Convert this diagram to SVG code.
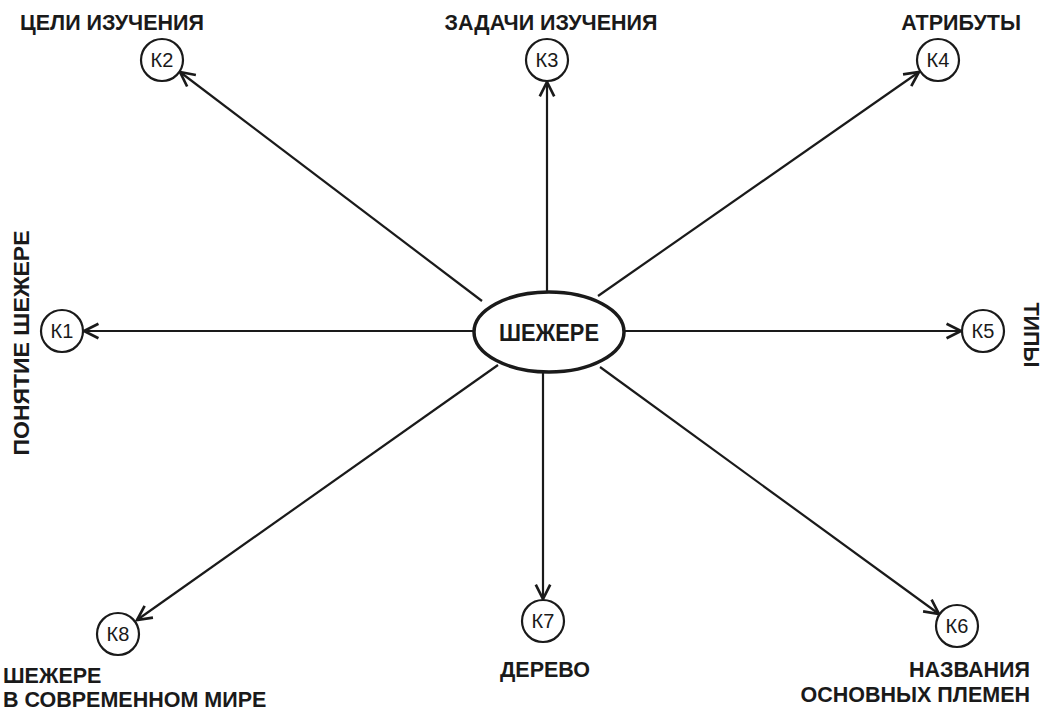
<svg xmlns="http://www.w3.org/2000/svg" width="1045" height="714" viewBox="0 0 1045 714">
<style>
.lbl{font-family:"Liberation Sans",Arial,sans-serif;font-weight:bold;font-size:21.5px;fill:#1a1a1a}
.k{font-family:"Liberation Sans",Arial,sans-serif;font-size:20px;fill:#1a1a1a}
.c{fill:#fff;stroke:#1a1a1a;stroke-width:2.2}
.e{stroke:#1a1a1a;stroke-width:2.2;fill:none}
.main{fill:#fff;stroke:#1a1a1a;stroke-width:3.5}
.mt{font-family:"Liberation Sans",Arial,sans-serif;font-weight:bold;font-size:24px;fill:#1a1a1a}
</style>
<defs>
<marker id="arr" markerUnits="userSpaceOnUse" markerWidth="20" markerHeight="20" viewBox="-16 -8 18 16" refX="0" refY="0" orient="auto">
<path d="M-13,-6.5 L0,0 L-13,6.5" fill="none" stroke="#1a1a1a" stroke-width="2.4" stroke-linejoin="miter"/>
</marker>
</defs>
<rect width="1045" height="714" fill="#fff"/>
<g id="connectors">
<line class="e" x1="482" y1="301" x2="180" y2="72" marker-end="url(#arr)"/>
<line class="e" x1="547" y1="292" x2="547" y2="82" marker-end="url(#arr)"/>
<line class="e" x1="598" y1="296" x2="919" y2="72" marker-end="url(#arr)"/>
<line class="e" x1="474" y1="331" x2="84" y2="331" marker-end="url(#arr)"/>
<line class="e" x1="624" y1="331" x2="961" y2="331" marker-end="url(#arr)"/>
<line class="e" x1="600" y1="367" x2="939" y2="614" marker-end="url(#arr)"/>
<line class="e" x1="543" y1="372" x2="543" y2="599" marker-end="url(#arr)"/>
<line class="e" x1="498" y1="365" x2="137" y2="620" marker-end="url(#arr)"/>
</g>
<g id="center">
<ellipse class="main" cx="549" cy="332" rx="75" ry="40"/>
<text class="mt" x="549" y="341" text-anchor="middle" textLength="100" lengthAdjust="spacingAndGlyphs">ШЕЖЕРЕ</text>
</g>
<g id="k1">
<circle class="c" cx="62" cy="331" r="21"/>
<text class="k" x="62" y="338" text-anchor="middle">К1</text>
<text class="lbl" transform="translate(29,343) rotate(-90)" text-anchor="middle" textLength="225" lengthAdjust="spacingAndGlyphs">ПОНЯТИЕ ШЕЖЕРЕ</text>
</g>
<g id="k2">
<circle class="c" cx="162" cy="60" r="21"/>
<text class="k" x="162" y="67" text-anchor="middle">К2</text>
<text class="lbl" x="20" y="30">ЦЕЛИ ИЗУЧЕНИЯ</text>
</g>
<g id="k3">
<circle class="c" cx="547" cy="60" r="21"/>
<text class="k" x="547" y="67" text-anchor="middle">К3</text>
<text class="lbl" x="551" y="30" text-anchor="middle">ЗАДАЧИ ИЗУЧЕНИЯ</text>
</g>
<g id="k4">
<circle class="c" cx="938" cy="60" r="21"/>
<text class="k" x="938" y="67" text-anchor="middle">К4</text>
<text class="lbl" x="1021" y="30" text-anchor="end">АТРИБУТЫ</text>
</g>
<g id="k5">
<circle class="c" cx="983" cy="331" r="21"/>
<text class="k" x="983" y="338" text-anchor="middle">К5</text>
<text class="lbl" transform="translate(1024,335) rotate(90)" text-anchor="middle">ТИПЫ</text>
</g>
<g id="k6">
<circle class="c" cx="957" cy="626" r="21"/>
<text class="k" x="957" y="633" text-anchor="middle">К6</text>
<text class="lbl" x="1030" y="677" text-anchor="end">НАЗВАНИЯ</text>
<text class="lbl" x="1030" y="702" text-anchor="end">ОСНОВНЫХ ПЛЕМЕН</text>
</g>
<g id="k7">
<circle class="c" cx="543" cy="621" r="21"/>
<text class="k" x="543" y="628" text-anchor="middle">К7</text>
<text class="lbl" x="545" y="677" text-anchor="middle">ДЕРЕВО</text>
</g>
<g id="k8">
<circle class="c" cx="118" cy="634" r="21"/>
<text class="k" x="118" y="641" text-anchor="middle">К8</text>
<text class="lbl" x="3" y="683">ШЕЖЕРЕ</text>
<text class="lbl" x="3" y="707">В СОВРЕМЕННОМ МИРЕ</text>
</g>
</svg>
